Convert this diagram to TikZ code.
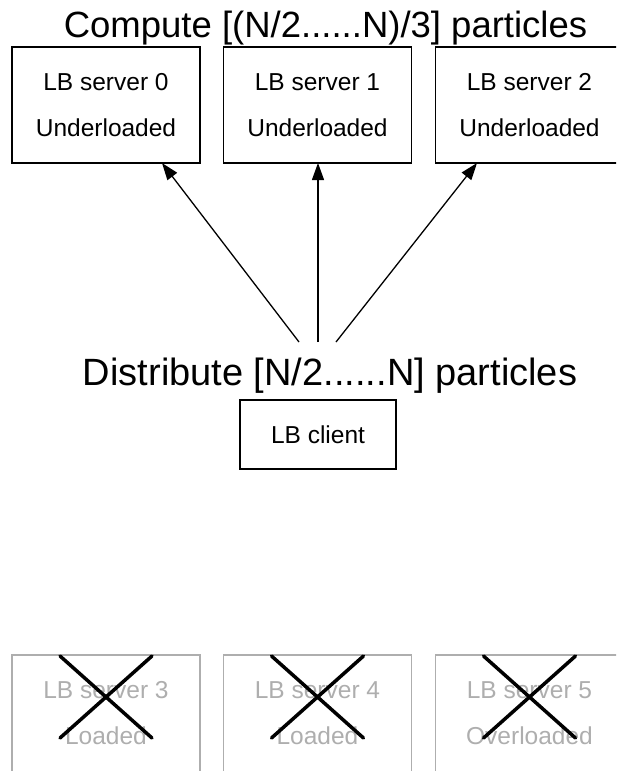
\documentclass[tikz,border=0pt]{standalone}
\usepackage{fontspec}
\setmainfont{Liberation Sans}
\usetikzlibrary{arrows.meta}
\definecolor{faded}{HTML}{AEAEAE}
\tikzset{
  x=1pt, y=-1pt,
  server/.style={draw, line width=1.3pt, minimum width=188pt, minimum height=116pt,
    inner sep=0pt, align=center, font=\fontsize{24.5}{46}\selectfont},
  downframe/.style={draw=faded, line width=1.3pt, minimum width=188pt, minimum height=136pt,
    inner sep=0pt},
  downtext/.style={text=faded, inner sep=0pt, align=center, font=\fontsize{24.5}{46}\selectfont},
  headline/.style={font=\fontsize{36.5}{40}\selectfont, inner sep=0pt, anchor=base},
  clientbox/.style={draw, line width=1.3pt, minimum width=156pt, minimum height=69pt,
    inner sep=0pt, font=\fontsize{24.5}{28}\selectfont},
  push/.style={line width=1.3pt, -{Triangle[length=17pt,width=12pt]}},
  strike/.style={line width=3.5pt, line cap=round},
}
\begin{document}
\begin{tikzpicture}
\useasboundingbox (0,0) rectangle (616,771);
\clip (0,0) rectangle (616,771);

% upper row of underloaded servers
\node[headline] (title) at (325.5,37) {Compute [(N/2......N)/3] particles};
\node[server] (s0) at (106,105) {LB server 0\\Underloaded};
\node[server] (s1) at (317.5,105) {LB server 1\\Underloaded};
\node[server] (s2) at (529.5,105) {LB server 2\\Underloaded};

% client in the middle
\node[headline, font=\fontsize{38}{42}\selectfont] (dist) at (330,385) {Distribute [N/2......N] particles};
\node[clientbox] (client) at (318,434.5) {LB client};

% fan-out arrows from the client label to the servers
\coordinate (a0) at (299,342);
\coordinate (a1) at (318,342);
\coordinate (a2) at (336,342);
\coordinate (t0) at (162,163);
\coordinate (t1) at (318,163);
\coordinate (t2) at (477,163);
\draw[push] (a0) -- (t0);
\draw[push] (a1) -- (t1);
\draw[push] (a2) -- (t2);

% lower row of loaded servers (frames run past the bottom edge), crossed out
\node[downframe] (f3) at (106,723) {};
\node[downframe] (f4) at (317.5,723) {};
\node[downframe] (f5) at (529.5,723) {};
\node[downtext] (s3) at (106,713) {LB server 3\\Loaded};
\node[downtext] (s4) at (317.5,713) {LB server 4\\Loaded};
\node[downtext] (s5) at (529.5,713) {LB server 5\\Overloaded};

\foreach \c in {106, 317.5, 529.5} {
  \draw[strike] (\c-46,656) -- (\c+46,738);
  \draw[strike] (\c+46,656) -- (\c-46,738);
}
\end{tikzpicture}
\end{document}
